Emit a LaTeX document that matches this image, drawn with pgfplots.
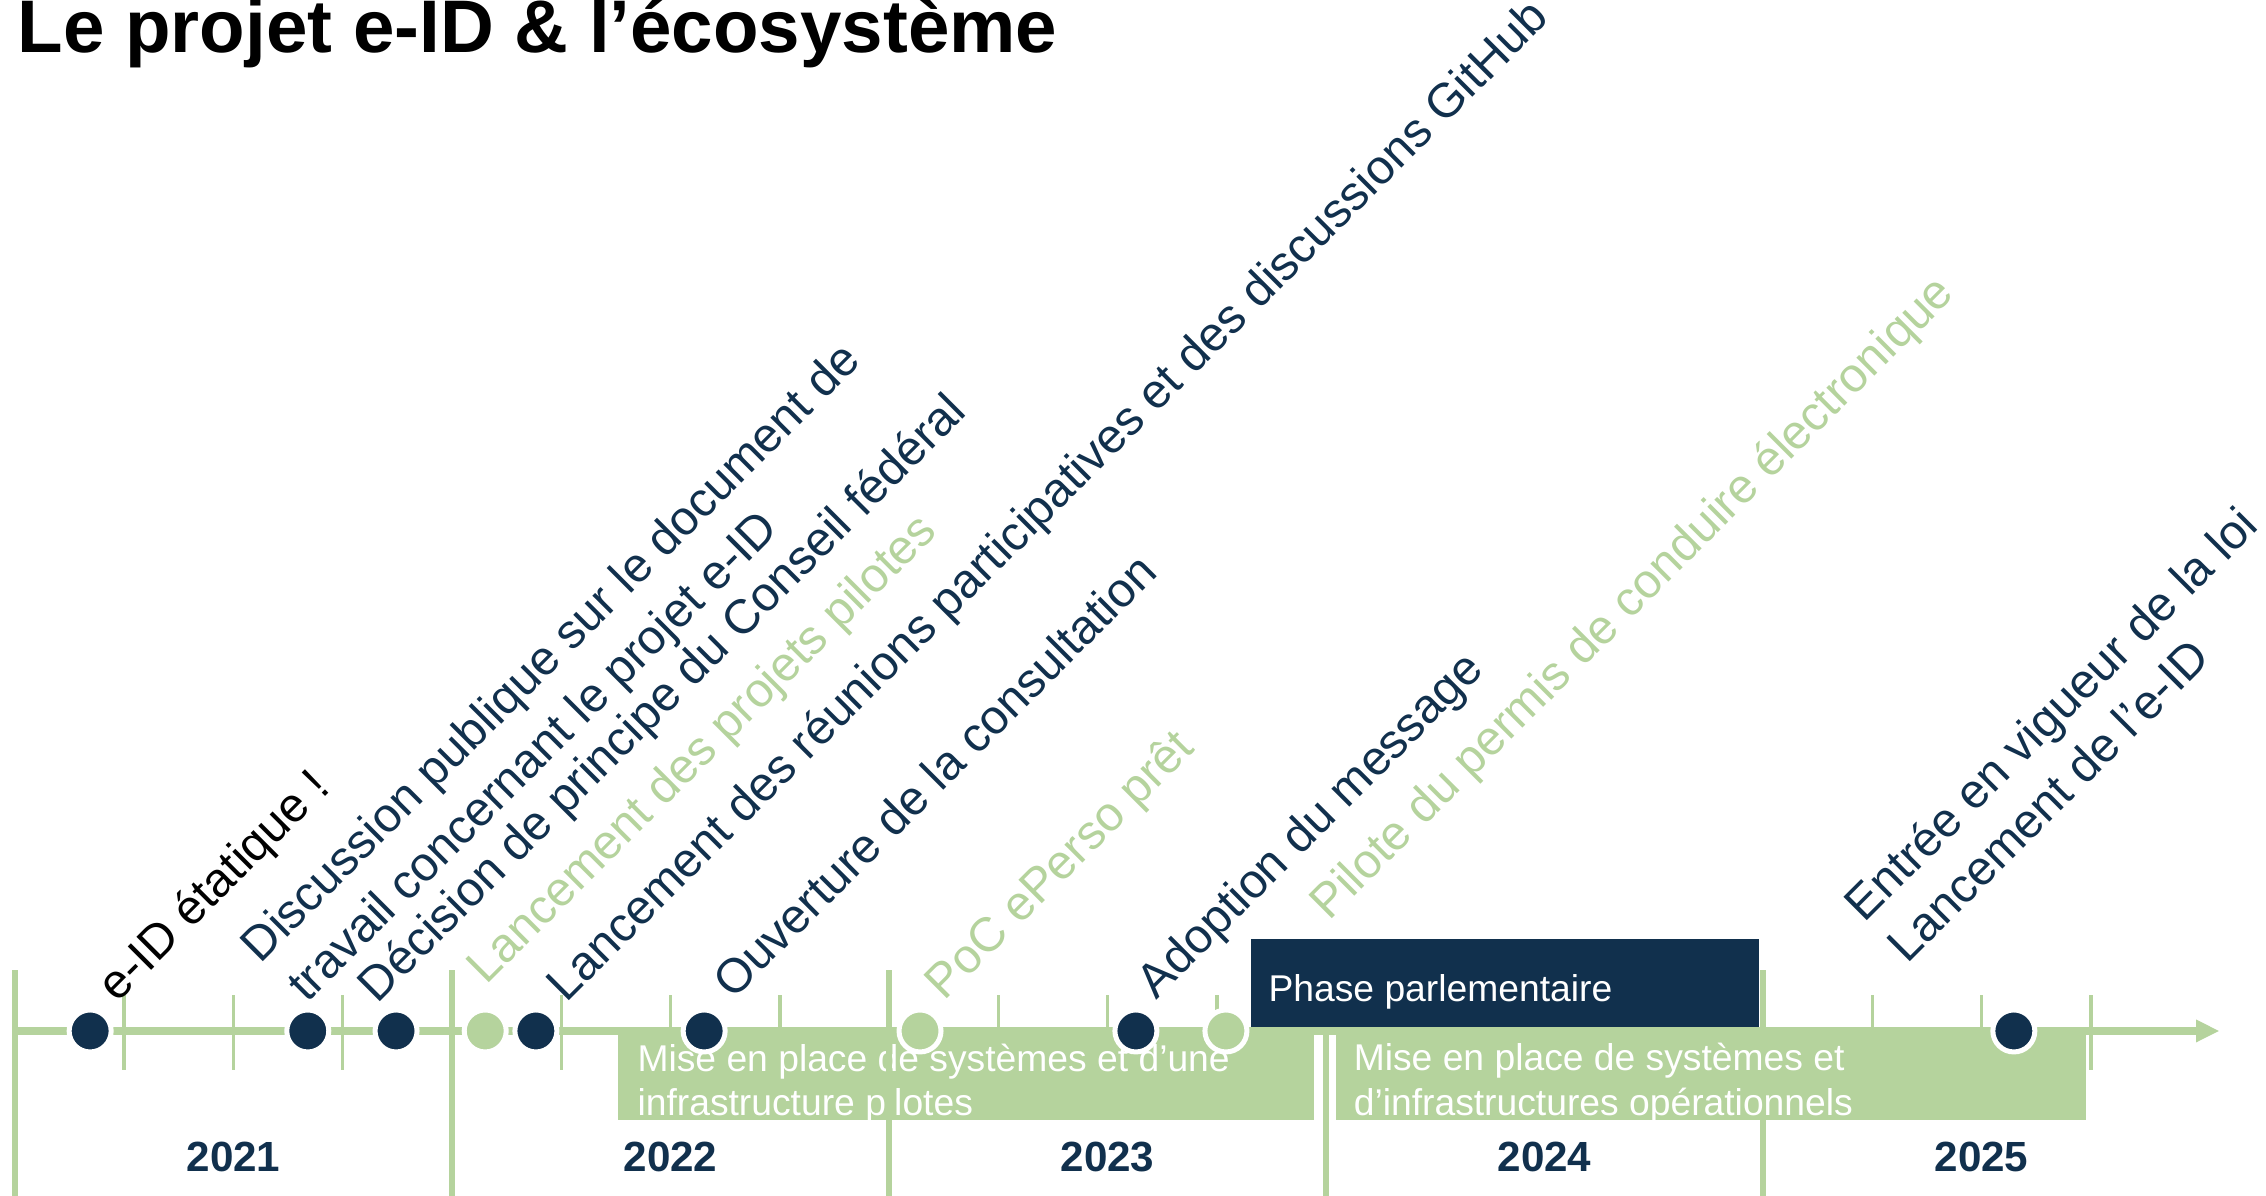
\documentclass[border=0pt]{standalone}
\usepackage{fontspec}
\setmainfont{Liberation Sans}
\usepackage{pgfplots}
\pgfplotsset{compat=1.18}
\definecolor{navy}{RGB}{17,48,77}
\definecolor{vert}{RGB}{181,211,157}

\begin{document}
\begin{tikzpicture}
\begin{axis}[name=ax, width=226.6mm, height=119.6mm, scale only axis, hide axis, clip=false,
  xmin=2020.9657, xmax=2026.1510, ymin=0, ymax=1196, unbounded coords=jump]
% quarter ticks
\addplot[vert, line width=0.35mm] coordinates {
  (2021.25,126) (2021.25,201) (2021.25,nan) (2021.5,126) (2021.5,201) (2021.5,nan) (2021.75,126) (2021.75,201) (2021.75,nan)
  (2022.25,126) (2022.25,201) (2022.25,nan) (2022.5,126) (2022.5,201) (2022.5,nan) (2022.75,126) (2022.75,201) (2022.75,nan)
  (2023.25,126) (2023.25,201) (2023.25,nan) (2023.5,126) (2023.5,201) (2023.5,nan) (2023.75,126) (2023.75,201) (2023.75,nan)
  (2024.25,126) (2024.25,201) (2024.25,nan) (2024.5,126) (2024.5,201) (2024.5,nan) (2024.75,126) (2024.75,201) (2024.75,nan)
  (2025.25,126) (2025.25,201) (2025.25,nan) (2025.5,126) (2025.5,201) (2025.5,nan) (2025.75,126) (2025.75,201)};
% time line and arrow
\addplot[vert, line width=0.8mm] coordinates {(2021,165) (2025.995,165)};
\addplot[fill=vert, draw=none] coordinates {(2025.991,176.5) (2026.043,165) (2025.991,153.5)};
% phase pilote
\addplot[fill=vert, draw=none] coordinates {(2022.380,76) (2023.973,76) (2023.973,162) (2022.380,162)};
\node[anchor=base west, inner sep=0, text=white, font=\fontsize{10.6}{12.5}\selectfont] at (axis cs:2022.423,124) {Mise en place de systèmes et d’une};
\node[anchor=base west, inner sep=0, text=white, font=\fontsize{10.6}{12.5}\selectfont] at (axis cs:2022.423,80) {infrastructure pilotes};
% year dividers
\addplot[vert, line width=0.65mm, ycomb, mark=none] coordinates {(2021,226) (2022,226) (2023,226) (2024,226) (2025,226)};
% phase operationnelle
\addplot[fill=vert, draw=none] coordinates {(2024.023,76) (2025.739,76) (2025.739,162) (2024.023,162)};
\node[anchor=base west, inner sep=0, text=white, font=\fontsize{10.6}{12.5}\selectfont] at (axis cs:2024.062,125) {Mise en place de systèmes et};
\node[anchor=base west, inner sep=0, text=white, font=\fontsize{10.6}{12.5}\selectfont] at (axis cs:2024.062,80) {d’infrastructures opérationnels};
% phase parlementaire
\addplot[fill=navy, draw=none] coordinates {(2023.828,169) (2024.991,169) (2024.991,257) (2023.828,257)};
\node[anchor=base west, inner sep=0, text=white, font=\fontsize{10.6}{12.5}\selectfont] at (axis cs:2023.867,194) {Phase parlementaire};
% milestones
\addplot[only marks, mark=*, mark size=2.1mm, mark options={fill=navy, draw=white, line width=0.5mm}] coordinates {
  (2021.172,165) (2021.670,165) (2021.872,165) (2022.192,165) (2022.577,165) (2023.565,165) (2025.574,165)};
\addplot[only marks, mark=*, mark size=2.1mm, mark options={fill=vert, draw=white, line width=0.5mm}] coordinates {
  (2022.076,165) (2023.071,165) (2023.771,165)};
% labels
\tikzset{lab/.style={anchor=base west, inner sep=0, rotate=45, font=\fontsize{13.7}{16}\selectfont}}
\node[lab, text=black] at (axis cs:2021.234,192) {e-ID étatique !};
\node[lab, text=navy] at (axis cs:2021.561,231) {Discussion publique sur le document de};
\node[lab, text=navy] at (axis cs:2021.668,192) {travail concernant le projet e-ID};
\node[lab, text=navy] at (axis cs:2021.829,191) {Décision de principe du Conseil fédéral};
\node[lab, text=vert] at (axis cs:2022.078,210) {Lancement des projets pilotes};
\node[lab, text=navy] at (axis cs:2022.261,192) {Lancement des réunions participatives et des discussions GitHub};
\node[lab, text=navy] at (axis cs:2022.643,195) {Ouverture de la consultation};
\node[lab, text=vert] at (axis cs:2023.126,194) {PoC ePerso prêt};
\node[lab, text=navy] at (axis cs:2023.611,195) {Adoption du message};
\node[lab, text=vert] at (axis cs:2024.007,274) {Pilote du permis de conduire électronique};
\node[lab, text=navy] at (axis cs:2025.232,272) {Entrée en vigueur de la loi};
\node[lab, text=navy] at (axis cs:2025.330,231) {Lancement de l’e-ID};
% years
\tikzset{yr/.style={anchor=base, inner sep=0, text=navy, font=\bfseries\fontsize{12}{14}\selectfont}}
\node[yr] at (axis cs:2021.5,24) {2021};
\node[yr] at (axis cs:2022.5,24) {2022};
\node[yr] at (axis cs:2023.5,24) {2023};
\node[yr] at (axis cs:2024.5,24) {2024};
\node[yr] at (axis cs:2025.5,24) {2025};
% title
\node[anchor=base west, inner sep=0, font=\bfseries\fontsize{21.2}{25}\selectfont] at (axis cs:2021.005,1143) {Le projet e-ID \& l’écosystème};
\end{axis}
\pgfresetboundingbox
\path[use as bounding box] (ax.south west) rectangle (ax.north east);
\end{tikzpicture}
\end{document}
